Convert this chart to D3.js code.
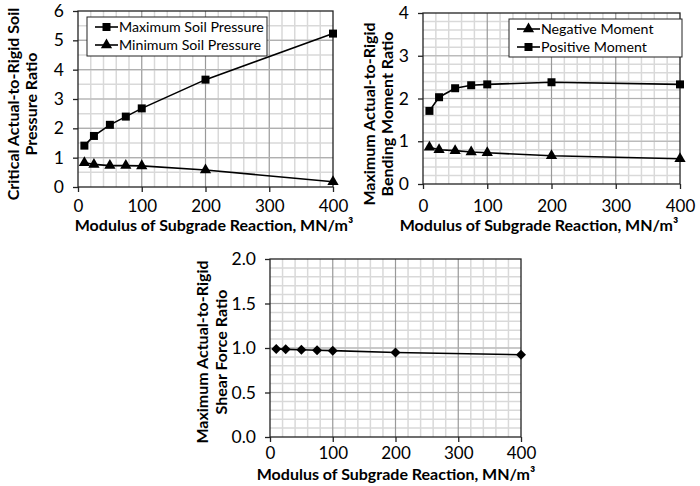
<!DOCTYPE html>
<html>
<head>
<meta charset="utf-8">
<script src="https://cdn.jsdelivr.net/npm/d3@7"></script>
<style>
  body { margin: 0; background: #fff; }
  text { font-family: Lato, sans-serif; fill: #000; }
</style>
</head>
<body>
<div id="chart"></div>
<script>
const modulus = [10, 25, 50, 75, 100, 200, 400];
const maxSoilPressure = [1.41, 1.74, 2.12, 2.40, 2.68, 3.66, 5.23];
const minSoilPressure = [0.83, 0.77, 0.73, 0.73, 0.72, 0.58, 0.18];
const negativeMoment = [0.86, 0.80, 0.78, 0.75, 0.73, 0.66, 0.59];
const positiveMoment = [1.71, 2.03, 2.24, 2.31, 2.33, 2.38, 2.33];
const shearForce = [0.99, 0.985, 0.98, 0.975, 0.97, 0.95, 0.925];
const xTicks = [0, 100, 200, 300, 400];
const pressureTicks = [0, 1, 2, 3, 4, 5, 6];
const momentTicks = [0, 1, 2, 3, 4];
const shearTicks = [0, 0.5, 1.0, 1.5, 2.0];
const xTitle = 'Modulus of Subgrade Reaction, MN/m³';

const width = 700;
const height = 486;

const svg = d3.select('#chart')
  .append('svg')
  .attr('width', width)
  .attr('height', height);

const symbols = {
  square: d3.symbolSquare,
  triangle: d3.symbolTriangle,
  diamond: d3.symbolDiamond2
};
const symbolSize = { square: 64, triangle: 55, diamond: 64 };

function drawChart(cfg) {
  const x = d3.scaleLinear().domain([0, 400]).range([cfg.left, cfg.right]);
  const y = d3.scaleLinear().domain([0, cfg.yMax]).range([cfg.bottom, cfg.top]);
  const g = svg.append('g');

  // minor grid
  const xMinor = d3.range(20, 400, 20).filter(v => v % 100 !== 0);
  g.selectAll('.xminor').data(xMinor).enter().append('line')
    .attr('x1', d => x(d)).attr('x2', d => x(d))
    .attr('y1', cfg.top).attr('y2', cfg.bottom)
    .attr('stroke', '#d9d9d9').attr('stroke-width', 1.5);
  const yMinor = d3.range(cfg.yMinor, cfg.yMax - 1e-9, cfg.yMinor);
  g.selectAll('.yminor').data(yMinor).enter().append('line')
    .attr('x1', cfg.left).attr('x2', cfg.right)
    .attr('y1', d => y(d)).attr('y2', d => y(d))
    .attr('stroke', '#d9d9d9').attr('stroke-width', 1.5);

  // major grid
  g.selectAll('.xmajor').data(xTicks.slice(1, -1)).enter().append('line')
    .attr('x1', d => x(d)).attr('x2', d => x(d))
    .attr('y1', cfg.top).attr('y2', cfg.bottom)
    .attr('stroke', '#999').attr('stroke-width', 1.2);
  g.selectAll('.ymajor').data(cfg.yTicks.slice(1, -1)).enter().append('line')
    .attr('x1', cfg.left).attr('x2', cfg.right)
    .attr('y1', d => y(d)).attr('y2', d => y(d))
    .attr('stroke', '#b0b0b0').attr('stroke-width', 1.2);

  g.append('rect')
    .attr('x', cfg.left).attr('y', cfg.top)
    .attr('width', cfg.right - cfg.left).attr('height', cfg.bottom - cfg.top)
    .attr('fill', 'none').attr('stroke', '#222').attr('stroke-width', 1.3);

  const xAxis = d3.axisBottom(x).tickValues(xTicks).tickSize(5).tickPadding(cfg.xPad);
  const yAxis = d3.axisLeft(y).tickValues(cfg.yTicks).tickSize(5).tickPadding(9)
    .tickFormat(cfg.yFormat);

  g.append('g')
    .attr('transform', 'translate(0,' + cfg.bottom + ')')
    .call(xAxis)
    .call(a => a.select('.domain').remove())
    .call(a => a.selectAll('.tick line').attr('stroke', '#222').attr('stroke-width', 1.3))
    .call(a => a.selectAll('text').attr('font-size', 17).attr('font-family', 'Lato, sans-serif'));

  g.append('g')
    .attr('transform', 'translate(' + cfg.left + ',0)')
    .call(yAxis)
    .call(a => a.select('.domain').remove())
    .call(a => a.selectAll('.tick line').attr('stroke', '#222').attr('stroke-width', 1.3))
    .call(a => a.selectAll('text').attr('font-size', 17.5).attr('font-family', 'Lato, sans-serif'));

  g.append('text')
    .attr('x', cfg.xTitleX)
    .attr('y', cfg.xTitleY)
    .attr('text-anchor', 'middle')
    .attr('font-size', 16)
    .attr('font-weight', 'bold')
    .text(xTitle);

  cfg.yTitle.forEach((line, i) => {
    g.append('text')
      .attr('transform', 'translate(' + (cfg.yTitleX + i * cfg.yTitleGap) + ',' + cfg.yTitleY + ') rotate(-90)')
      .attr('text-anchor', 'middle')
      .attr('font-size', 16)
      .attr('font-weight', 'bold')
      .text(line);
  });

  const line = d3.line().x(d => x(d[0])).y(d => y(d[1]));
  cfg.series.forEach(s => {
    const pts = modulus.map((m, i) => [m, s.values[i]]);
    g.append('path')
      .attr('d', line(pts))
      .attr('fill', 'none')
      .attr('stroke', '#000')
      .attr('stroke-width', 1.6);
    g.selectAll(null).data(pts).enter().append('path')
      .attr('d', d3.symbol().type(symbols[s.marker]).size(symbolSize[s.marker]))
      .attr('transform', d => 'translate(' + x(d[0]) + ',' + y(d[1]) + ')')
      .attr('fill', '#000');
  });

  if (cfg.legend) {
    const lg = cfg.legend;
    g.append('rect')
      .attr('x', lg.x).attr('y', lg.y)
      .attr('width', lg.w).attr('height', lg.h)
      .attr('fill', '#fff').attr('stroke', '#222').attr('stroke-width', 1);
    lg.order.forEach((idx, i) => {
      const s = cfg.series[idx];
      const cy = lg.y + 10 + i * 18;
      g.append('line')
        .attr('x1', lg.x + 8).attr('x2', lg.x + 31)
        .attr('y1', cy).attr('y2', cy)
        .attr('stroke', '#000').attr('stroke-width', 1.6);
      g.append('path')
        .attr('d', d3.symbol().type(symbols[s.marker]).size(symbolSize[s.marker]))
        .attr('transform', 'translate(' + (lg.x + 19.5) + ',' + cy + ')')
        .attr('fill', '#000');
      g.append('text')
        .attr('x', lg.x + 32).attr('y', cy + 5)
        .attr('font-size', 14.2)
        .text(s.name);
    });
  }
}

drawChart({
  left: 78, right: 333, top: 11, bottom: 187,
  yMax: 6, yMinor: 0.5, yTicks: pressureTicks, yFormat: d3.format('d'),
  yTitle: ['Critical Actual-to-Rigid Soil', 'Pressure Ratio'],
  yTitleX: 19, yTitleY: 104, yTitleGap: 18,
  xPad: 8, xTitleX: 214, xTitleY: 231,
  series: [
    { name: 'Maximum Soil Pressure', values: maxSoilPressure, marker: 'square' },
    { name: 'Minimum Soil Pressure', values: minSoilPressure, marker: 'triangle' }
  ],
  legend: { x: 87, y: 17, w: 180, h: 39, order: [0, 1] }
});

drawChart({
  left: 423, right: 680, top: 13, bottom: 184,
  yMax: 4, yMinor: 0.2, yTicks: momentTicks, yFormat: d3.format('d'),
  yTitle: ['Maximum Actual-to-Rigid', 'Bending Moment Ratio'],
  yTitleX: 375, yTitleY: 114, yTitleGap: 18,
  xPad: 11, xTitleX: 539, xTitleY: 231,
  series: [
    { name: 'Negative Moment', values: negativeMoment, marker: 'triangle' },
    { name: 'Positive Moment', values: positiveMoment, marker: 'square' }
  ],
  legend: { x: 509, y: 19, w: 173, h: 38, order: [0, 1] }
});

drawChart({
  left: 270, right: 521, top: 259, bottom: 437,
  yMax: 2, yMinor: 0.1, yTicks: shearTicks, yFormat: d3.format('.1f'),
  yTitle: ['Maximum Actual-to-Rigid', 'Shear Force Ratio'],
  yTitleX: 208, yTitleY: 352, yTitleGap: 19,
  xPad: 5, xTitleX: 396, xTitleY: 479.5,
  series: [
    { name: 'Shear Force', values: shearForce, marker: 'diamond' }
  ],
  legend: null
});
</script>
</body>
</html>
